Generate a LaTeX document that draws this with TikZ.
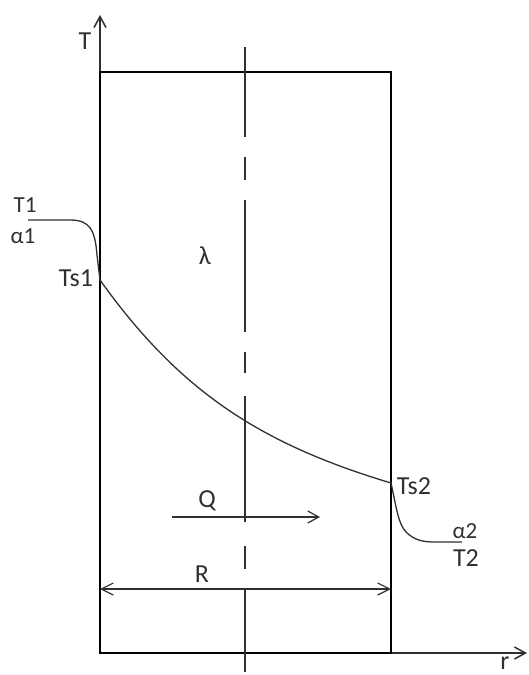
\documentclass[tikz,border=0pt]{standalone}
\usepackage{fontspec}
\setmainfont{Carlito}
\usetikzlibrary{arrows.meta}
\definecolor{ink}{HTML}{303030}
\begin{document}
\begin{tikzpicture}[x=1bp,y=-1bp,
  wall/.style={line width=2.4bp, draw=black},
  axisline/.style={line width=1.5bp, draw=ink},
  centre/.style={line width=1.5bp, draw=ink},
  curve/.style={line width=1.3bp, draw=ink},
  flow/.style={line width=1.2bp, draw=ink},
  barb/.style={-{Straight Barb[length=11bp,width=12bp]}},
  lbl/.style={inner sep=0pt, font=\fontsize{26bp}{30bp}\selectfont, text=ink},
  sml/.style={inner sep=0pt, font=\fontsize{23bp}{27bp}\selectfont, text=ink}]
\useasboundingbox (0,0) rectangle (529,675);
% key points
\coordinate (tl) at (100,72);
\coordinate (br) at (391,653);
\coordinate (ttip) at (100,15);
\coordinate (rtip) at (527,653);
\coordinate (s1) at (100,280);
\coordinate (s2) at (391,483);
% axes
\draw[axisline, barb] (tl) -- (ttip);
\draw[axisline, barb] (br) -- (rtip);
% wall
\draw[wall] (tl) rectangle (br);
% centre line (dash-dot)
\foreach \a/\b in {47/137, 157/180, 200/332, 352/373, 396/522, 546/569, 590/672}
  \draw[centre] (245,\a) -- (245,\b);
% temperature profile
\draw[curve] (28,220) -- (70,220) .. controls (90,220) and (95,230) .. (97,255) -- (s1);
\draw[curve] (s1) .. controls (180,392) and (261,444) .. (s2);
\draw[curve] (s2) .. controls (396,505) and (398,525) .. (407,533) .. controls (415,540) and (422,542) .. (435,542) -- (462,542);
% heat flow and radius
\coordinate (qa) at (172,517);
\coordinate (qb) at (320,517);
\draw[flow, barb] (qa) -- (qb);
\coordinate (ra) at (100,589);
\coordinate (rb) at (391,589);
\draw[flow, {Straight Barb[length=12bp,width=12bp]}-{Straight Barb[length=12bp,width=12bp]}] (ra) -- (rb);
% labels
\node[lbl] (lT) at (85,41) {T};
\node[lbl] (lr) at (505,663) {r};
\node[sml] (lT1) at (25,205) {T1};
\node[sml] (la1) at (23,236) {α1};
\node[lbl] (lTs1) at (76,278) {Ts1};
\node[lbl] (llam) at (205,256) {λ};
\node[lbl] (lTs2) at (414,486) {Ts2};
\node[sml] (la2) at (465,531) {α2};
\node[lbl] (lT2) at (466,558) {T2};
\node[lbl] (lQ) at (207,501) {Q};
\node[lbl] (lR) at (202,574) {R};
\end{tikzpicture}
\end{document}
